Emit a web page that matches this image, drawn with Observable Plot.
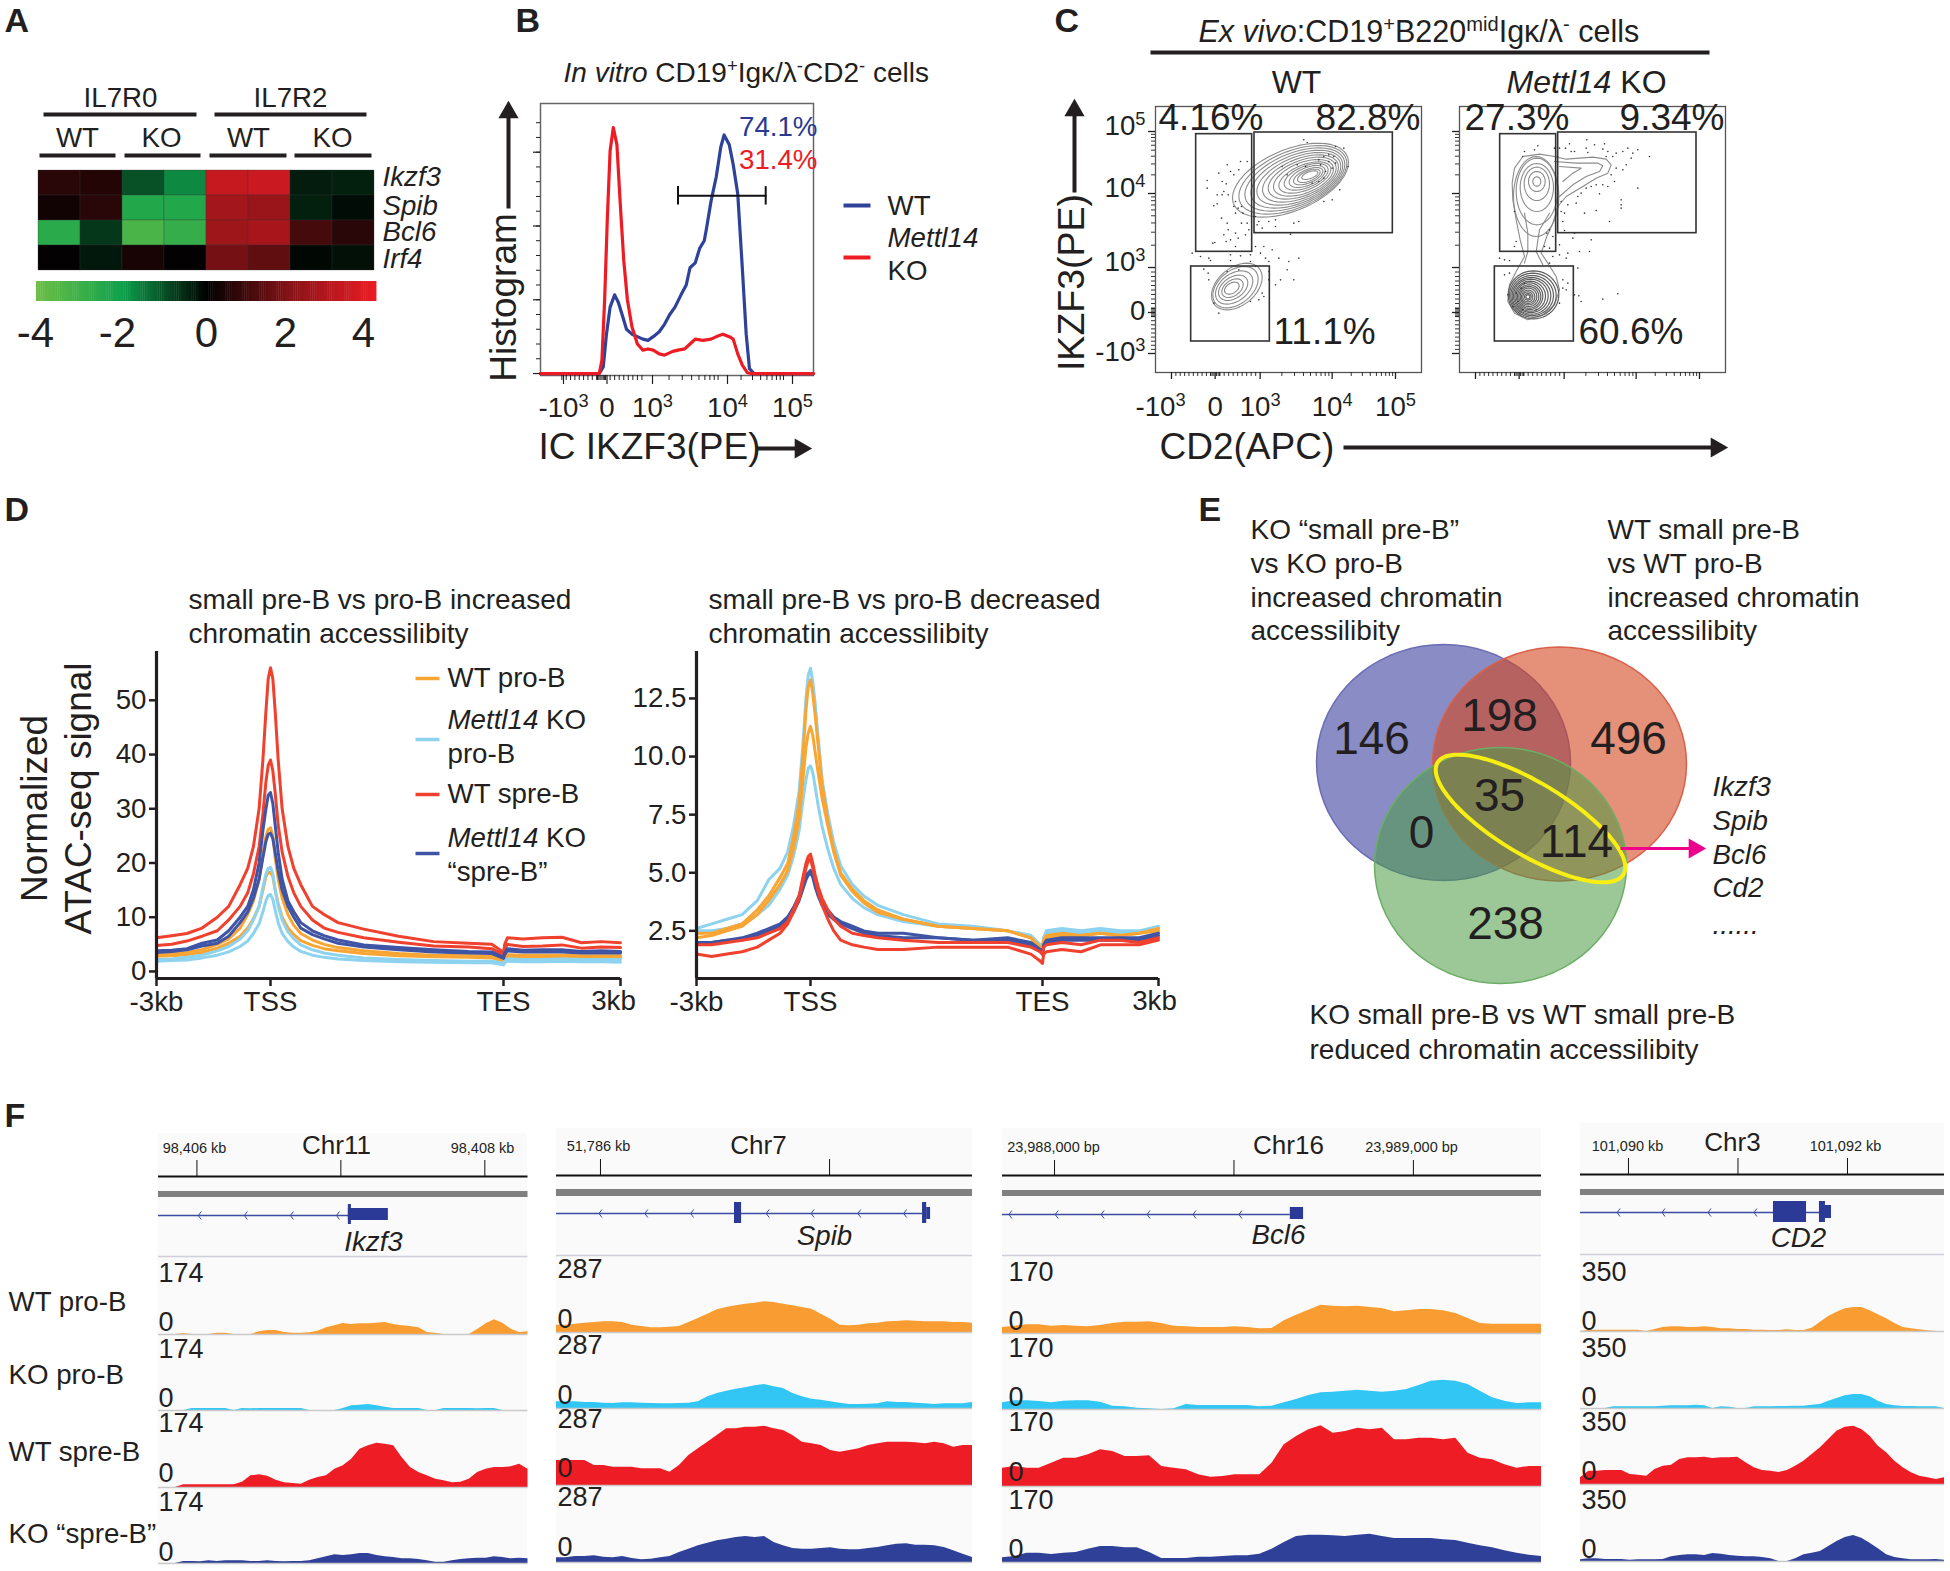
<!DOCTYPE html>
<html><head><meta charset="utf-8">
<style>html,body{margin:0;background:#fff}#fig{position:relative;width:1950px;height:1571px;background:#fff;overflow:hidden}</style>
<script src="https://cdn.jsdelivr.net/npm/d3@7"></script>
<script src="https://cdn.jsdelivr.net/npm/@observablehq/plot@0.6"></script>
</head><body><div id="fig"></div>
<script>
/* ---------- DATA ---------- */
// A: heat map (z-scores)
const heatSamples=["R0 WT 1","R0 WT 2","R0 KO 1","R0 KO 2","R2 WT 1","R2 WT 2","R2 KO 1","R2 KO 2"];
const heatGenes=["Ikzf3","Spib","Bcl6","Irf4"];
const heatIkzf3=[0.6,0.5,-1.0,-1.7,3.2,3.3,-0.35,-0.4];
const heatSpib=[0.25,0.6,-2.4,-2.4,2.5,2.3,-0.4,-0.15];
const heatBcl6=[-2.6,-0.7,-3.3,-2.8,2.4,2.6,1.0,0.6];
const heatIrf4=[0.05,-0.3,0.35,0.05,1.7,1.4,-0.1,-0.2];
// B: histogram (x: biexponential decade coordinate, y: % of mode)
const histWTx=[-1.39,-0.04,0.05,0.12,0.20,0.30,0.38,0.48,0.56,0.68,0.80,0.92,1.02,1.09,1.17,1.24,1.31,1.38,1.46,1.53,1.58,1.65,1.71,1.77,1.80,1.86,1.93,1.99,2.04,2.12,2.18,2.25,2.32,2.38,2.43,2.50,3.41];
const histWTy=[0,0,2.7,16,27,32,29,23,18,16,15,14,13.5,15,17,20,24,27,32,36,43,45,51,54,59,70,80,92,97,93,85,73,43,16,2,0,0];
const histKOx=[-1.39,-0.04,0.02,0.08,0.14,0.20,0.27,0.35,0.42,0.50,0.58,0.68,0.80,0.92,1.02,1.09,1.17,1.24,1.35,1.42,1.51,1.58,1.65,1.75,1.86,1.97,2.02,2.12,2.18,2.25,2.32,2.40,2.45,3.41];
const histKOy=[0,0,5.4,30,63.5,90.5,100,93,70,46,30,19,12,9.5,10,9.5,8,7.5,9,9.5,10,12,14,13.5,14,15.5,16,15,14,8,3.4,0.3,0,0];
// C: flow gates [x1,x2,y1,y2], contours [cx,cy,rx,ry,tilt], contour outlines, events (display channels 0-798, y from top)
const gatesWT=[[122,290,83,436],[297,712,78,380],[107,343,480,705]];
const gatesKO=[[122,290,83,436],[296,711,78,380],[106,343,480,705]];
const contoursWT=[[405,221,174,111,-.5],[412,220,162,103,-.5],[418,219,150,95,-.5],[424,218,138,87,-.5],[430,217,126,79,-.5],[435,216,114,71,-.5],[440,215,102,63,-.5],[444,214,90,55,-.5],[448,213,78,47,-.55],[452,211,66,40,-.55],[455,210,54,33,-.55],[458,209,44,26,-.6],[460,208,34,20,-.6],[463,206,24,13,-.6],
[244,540,76,70,-.4],[240,542,68,62,-.4],[236,543,56,50,-.4],[233,544,44,38,-.4],[231,545,32,28,-.4],[229,545,22,18,-.4]];
const contoursKO=[[230,270,68,120,0],[232,255,62,100,0],[232,243,50,72,0],[232,232,38,50,0],[232,225,25,30,0],[232,225,12,14,0]];
const contoursKOlow=[[222,565,76,72,0],[220,566,70,66,0],[218,567,64,60,0],[216,568,58,55,0],[214,568,52,50,0],[212,569,46,45,0],[210,569,40,40,0],[209,570,35,35,0],[208,570,30,30,0],[207,570,25,25,0],[206,571,20,20,0],[205,571,15,15,0],[205,571,10,10,0],[205,571,6,6,0]];
const outlineKO=[[158,230],[165,185],[190,150],[240,143],[285,150],[320,158],[400,152],[440,158],[455,175],[445,200],[410,215],[370,240],[320,270],[295,300],[280,350],[262,390],[245,440],[265,470],[290,510],[300,550],[285,595],[250,625],[205,640],[165,620],[145,585],[150,535],[170,495],[195,450],[182,400],[170,340],[160,280],[158,230]];
const tailKO1=[[285,165],[350,170],[415,170],[430,178],[420,195],[380,210],[340,235],[300,270]];
const tailKO2=[[300,180],[365,185],[340,200],[310,225]];
const neckKO1=[[195,320],[205,380],[205,435],[195,470]];
const neckKO2=[[270,320],[240,370],[230,435],[250,475]];
const eventsWT=[[215,175],[190,200],[225,195],[235,205],[250,190],[255,165],[275,165],[200,225],[212,232],[155,222],[155,245],[205,255],[218,265],[185,265],[200,265],[175,298],[185,292],[240,285],[235,300],[248,305],[258,300],[240,320],[262,320],[198,335],[215,350],[258,350],[275,350],[218,370],[240,380],[205,385],[225,400],[248,395],[172,410],[178,408],[212,405],[240,420],[270,385],[280,370],[310,345],[305,355],[340,345],[360,340],[320,365],[300,378],[360,360],[405,383],[430,345],[415,350],[300,330],[445,100],[455,108],[540,120],[565,125],[578,180],[553,250],[530,280],[505,285],[110,440],[135,450],[160,455],[165,462],[225,445],[255,448],[285,445],[300,420],[325,420],[350,430],[315,440],[330,455],[340,465],[285,465],[225,462],[300,480],[370,455],[430,455],[400,465],[395,490],[415,520],[375,520],[360,535],[340,495],[340,520],[320,560],[310,580],[325,570],[285,585],[250,490],[145,488],[158,500],[160,520],[215,495],[190,620],[175,590],
[490,160],[505,150],[520,165],[530,185],[510,195],[495,175],[540,170],[470,230],[490,225],[505,215],[450,180],[425,175],[395,205],[380,180],[520,145],[535,150]];
const eventsKO=[[235,118],[225,130],[195,135],[190,150],[285,125],[300,125],[318,125],[330,112],[345,135],[335,135],[382,100],[380,125],[385,138],[405,115],[435,112],[430,128],[445,135],[440,150],[460,150],[470,140],[490,135],[505,125],[520,140],[535,130],[515,155],[500,175],[490,190],[470,185],[455,205],[465,225],[445,240],[430,235],[410,235],[395,240],[380,245],[365,260],[355,270],[420,262],[350,290],[375,320],[410,312],[450,345],[485,280],[485,295],[485,305],[535,245],[570,150],[305,285],[325,295],[315,320],[305,315],[310,345],[345,380],[315,372],[270,370],[262,380],[280,390],[165,315],[170,405],[165,420],[255,420],[270,425],[300,415],[340,395],[395,400],[390,435],[360,435],[325,440],[300,445],[320,455],[280,450],[135,460],[120,455],[150,462],[270,470],[355,485],[135,505],[150,500],[310,520],[325,530],[320,550],[310,545],[300,590],[345,565],[358,568],[365,585],[430,578],[475,562],[145,565],
[170,560],[185,545],[175,585],[195,530],[160,600],[190,610],[230,610]];
// D: ATAC-seq profiles (x: -3..0 upstream kb, 0..1 scaled gene body, 1..4 downstream)
const profileX=[-3,-2.6,-2.2,-1.8,-1.4,-1.1,-.8,-.6,-.45,-.3,-.2,-.12,-.06,0,.01,.02,.033,.05,.075,.1,.13,.18,.23,.29,.4,.55,.7,.85,.95,.99,1,1.03,1.1,1.5,2,2.5,3,3.5,4];
const incKOpro1=[2.2,2.3,2.6,3,3.8,4.6,6,7.5,9.5,12,15.5,18,19,19.2,18,15,12,9.5,7.3,6,4.9,4,3.4,3,2.5,2.2,2,1.9,1.9,1.6,1.4,2,2.3,2.2,2.2,2.3,2.2,2.2,2.2];
const incKOpro2=[1.9,2,2.1,2.5,3,3.6,4.6,5.6,7,8.8,11,13,14,14.2,13.3,11.3,9,7,5.5,4.5,3.7,3,2.6,2.3,2,1.8,1.7,1.6,1.6,1.3,1.2,1.6,1.9,1.8,1.8,1.9,1.8,1.8,1.7];
const incWTpro1=[3.1,3.2,3.5,4,5,6,8,10.5,13,17,21.5,25,26.2,26.5,25,21,17,13.5,10.5,8.5,7,5.8,5,4.4,3.8,3.3,3,2.9,2.8,2.2,2,2.7,3.1,3,3,3,2.9,2.9,2.9];
const incWTpro2=[2.8,2.9,3.1,3.5,4.3,5.2,6.5,8,9.7,12,15,17.5,18.2,18.3,17.5,15,12.5,10,8,6.8,5.7,4.8,4.2,3.8,3.3,2.9,2.7,2.6,2.5,2,1.8,2.4,2.8,2.7,2.7,2.7,2.6,2.6,2.6];
const incKOspre1=[3.8,3.9,4.2,5.2,5.8,7.5,10,12,15,20,26,30,32.5,33,31,27,22,17,13,11,9,7.5,6.6,5.8,4.9,4.4,4,3.7,3.6,2.8,2.6,3.4,4.2,3.9,4,4,3.7,3.8,3.7];
const incKOspre2=[3.5,3.7,4,4.7,5.2,6.5,9,11,13.5,17,21,24,25.3,25.5,24.5,22,18.5,15,12,10,8,6.8,6,5.2,4.5,4,3.6,3.4,3.3,2.6,2.4,3.1,3.8,3.6,3.6,3.6,3.4,3.4,3.4];
const incWTspre1=[6.2,6.6,7,8,10,12,16,19,23,30,39,48,54,56,54,48,39,30,23,19,16,12,10.5,9,7.8,6.5,5.5,5.2,5,3.8,3.3,5,6.2,6,6.2,6.3,5.3,5.5,5.3];
const incWTspre2=[4.8,5,5.6,6.5,7.5,9.5,12,14.5,18,23,29,35,38,39,37,33,27,22,17.5,14.5,12,9.5,8,7.2,6.2,5.4,4.7,4.5,4.2,3.3,2.9,4.2,5,4.6,4.7,4.9,4.3,4.5,4.4];
const decKOpro1=[2.6,2.8,3,3.2,3.8,4.7,5.2,5.9,7,8.5,10.5,12.5,13.5,13.8,13.2,12.3,10.8,9,7.5,6.3,5.3,4.5,4,3.6,3.2,2.8,2.7,2.5,2.3,1.9,1.8,2.2,2.5,2.6,2.5,2.6,2.5,2.5,2.7];
const decKOpro2=[2.5,2.5,2.6,2.8,3.2,3.6,4.3,4.9,5.7,6.8,8.1,9,9.5,9.6,9.3,8.7,7.9,7,6,5.2,4.5,3.9,3.5,3.2,2.9,2.7,2.6,2.5,2.3,1.9,1.8,2.2,2.4,2.5,2.4,2.5,2.4,2.4,2.6];
const decWTpro1=[2.4,2.4,2.6,2.8,3.4,4,4.8,5.4,6.5,8,10,12,13,13.3,12.7,11.8,10.5,8.8,7.2,6,5,4.3,3.8,3.4,3,2.7,2.6,2.5,2.2,1.8,1.7,2.1,2.3,2.4,2.3,2.4,2.3,2.4,2.6];
const decWTpro2=[2.2,2.3,2.5,2.7,3.2,3.8,4.5,5.1,6,7.3,9,10.4,11,11.3,10.9,10.2,9.3,8.2,7,5.9,4.9,4.2,3.7,3.3,3,2.7,2.6,2.5,2.2,1.8,1.7,2,2.2,2.3,2.3,2.4,2.3,2.4,2.5];
const decKOspre1=[2,2,2.1,2.2,2.4,2.6,2.8,3.1,3.5,4,4.6,4.9,5,5.1,4.9,4.5,4.1,3.7,3.4,3.1,2.9,2.7,2.5,2.4,2.4,2.2,2.1,2.2,2,1.7,1.5,1.9,2.1,2.2,2.2,2.2,2.2,2.2,2.4];
const decKOspre2=[1.9,2,2.1,2.1,2.3,2.5,2.7,3,3.3,3.8,4.3,4.7,4.9,5,4.8,4.4,4,3.6,3.2,3,2.8,2.6,2.4,2.3,2.2,2.2,2.1,2.1,1.9,1.6,1.5,1.8,2,2.1,2.1,2.1,2.1,2.1,2.3];
const decWTspre1=[1.9,1.9,2,2.1,2.2,2.4,2.6,2.9,3.4,4,4.8,5.4,5.7,5.8,5.4,4.9,4.4,3.9,3.4,3,2.7,2.4,2.3,2.2,2.1,2,2,2,1.8,1.6,1.5,1.8,1.9,2,1.9,2.1,2.1,2,2.2];
const decWTspre2=[1.5,1.4,1.5,1.6,1.8,2.1,2.4,2.8,3.3,3.9,4.6,5.2,5.5,5.6,5.2,4.7,4.2,3.6,3,2.5,2.1,1.9,1.8,1.7,1.7,1.8,1.8,1.8,1.5,1.2,1.1,1.5,1.6,1.7,1.6,1.9,1.9,1.9,2.1];
// E: Venn counts
const vennCounts=["146","198","496","35","0","114","238"];
const geneList=["Ikzf3","Spib","Bcl6","Cd2"];
// F: browser tracks, evenly sampled across each locus (signal in display units, 0-225 = track height)
const ikzf3WTpro=[0,0,0,3,0,0,0,4,4,0,0,0,8,12,12,6,4,4,5,10,20,26,33,30,32,32,34,36,30,26,24,20,6,4,0,0,0,0,15,32,44,34,16,6,8];
const ikzf3KOpro=[0,0,0,0,6,6,6,6,6,0,6,5,6,6,6,6,6,6,0,0,0,0,6,14,16,18,14,10,6,6,6,6,0,0,6,6,6,6,5,6,6,0,0,0,0];
const ikzf3WTspre=[0,0,0,8,8,8,8,8,8,8,16,35,38,34,22,14,12,10,22,30,35,55,65,85,115,125,133,130,125,90,60,45,35,25,20,14,16,25,45,55,60,60,62,70,55];
const ikzf3KOspre=[0,0,0,6,6,5,8,6,8,8,8,6,6,8,6,5,6,6,8,14,20,26,24,26,30,30,24,20,18,14,14,12,8,4,4,8,12,14,16,16,20,18,14,16,14];
const spibWTpro=[22,22,25,28,30,32,32,30,22,18,14,14,16,18,30,42,55,68,75,80,85,88,92,90,85,80,75,70,55,40,22,20,22,26,28,32,33,35,34,32,32,32,30,30,28];
const spibKOpro=[20,20,20,18,18,16,15,17,17,16,15,14,14,15,16,20,35,45,52,58,62,68,72,65,60,45,35,28,25,20,16,12,12,13,14,20,18,18,16,14,12,14,14,14,18];
const spibWTspre=[75,75,75,75,60,60,55,55,55,50,50,50,40,60,90,110,130,150,170,170,175,175,178,170,165,150,130,125,120,105,100,105,110,120,125,130,130,130,128,125,130,125,115,120,120];
const spibKOspre=[14,14,18,18,20,16,14,18,12,8,10,14,18,30,40,50,58,65,70,75,78,75,78,60,50,42,40,40,42,44,40,38,38,42,45,50,55,56,52,52,50,45,35,25,15];
const bcl6WTpro=[18,22,26,26,22,24,22,20,24,30,34,34,35,30,22,20,18,18,18,20,18,14,15,38,55,70,85,82,80,82,78,75,65,68,72,72,68,60,45,30,28,28,28,28,28];
const bcl6KOpro=[20,26,26,24,20,25,26,26,22,10,8,4,2,0,2,15,12,12,12,12,12,8,10,20,30,42,50,52,55,58,55,52,55,60,72,85,88,85,75,55,35,25,18,20,20];
const bcl6WTspre=[55,60,55,55,70,85,85,95,110,105,90,90,92,60,55,50,35,28,30,35,35,35,70,125,150,170,182,160,165,175,170,175,140,140,145,145,140,145,100,85,80,65,55,60,60];
const bcl6KOspre=[14,18,28,28,24,28,30,40,48,48,44,44,30,12,12,12,16,16,18,20,20,25,40,60,78,82,82,80,78,82,85,78,72,72,72,72,68,66,58,50,44,35,28,22,18];
const cd2WTpro=[0,4,4,4,4,4,4,4,0,6,12,14,14,12,12,14,12,8,8,6,6,4,4,3,3,5,3,3,10,28,45,58,68,72,72,62,50,38,24,12,8,5,2,0,0];
const cd2KOpro=[0,0,0,0,5,5,5,5,5,5,7,8,8,8,10,8,0,5,4,0,0,5,5,5,6,6,7,7,10,12,22,30,38,42,42,35,22,12,8,6,6,5,5,5,0];
const cd2WTspre=[20,40,40,42,42,42,30,28,25,45,55,58,75,80,80,82,78,80,80,82,65,50,42,40,36,42,55,70,90,110,135,160,172,175,165,145,115,95,70,50,35,25,20,15,20];
const cd2KOspre=[5,8,8,6,6,6,4,5,5,5,6,14,18,20,20,18,24,22,18,16,14,14,12,8,0,0,8,20,25,30,45,60,72,78,70,55,38,20,12,8,5,5,5,6,4];

/* ---------- STYLE & LAYOUT ---------- */
const FONT='"Liberation Sans",Arial,sans-serif', INK="#231f20";
const ORANGE="#f9a533",SKY="#8dd3f0",RED="#f0402e",BLUE="#3f54a5";
const S=27.7;
const fig=document.getElementById("fig");
function rich(root){
  root.querySelectorAll("text,tspan").forEach(n=>{
    if(n.children.length||!n.textContent.includes("<"))return;
    n.innerHTML=n.textContent
      .replace(/<sup>(.*?)<\/sup>/g,'<tspan baseline-shift="super" font-size="66%">$1</tspan>')
      .replace(/<i>(.*?)<\/i>/g,'<tspan font-style="italic">$1</tspan>');
  });
}
function panel([l,t,r,b],opts){
  const el=Plot.plot({width:r-l,height:b-t,margin:0,...opts});
  Object.assign(el.style,{position:"absolute",left:l+"px",top:t+"px",overflow:"visible",background:"transparent",maxWidth:"none",
    fontFamily:FONT,color:INK,pointerEvents:"none",height:(b-t)+"px"});
  rich(el);fig.appendChild(el);return el;
}
// a position scale with unequal segments (biexponential axis, scaled gene body), as a Plot scale transform;
// axis marks take the transformed tick positions directly
const warped=(warp)=>{const r=warp.range(),e=[r[0],r[r.length-1]];return{transform:warp,domain:e,range:e,axis:null}};
const PAGE=[0,0,1950,1571];
const pageScales={x:{domain:[0,1950],range:[0,1950],axis:null},y:{domain:[0,1571],range:[0,1571],axis:null}};
const txt=(rows,anchor,extra={})=>Plot.text(rows,{x:d=>d[1],y:d=>d[2],text:d=>d[0],fontSize:d=>d[3],textAnchor:anchor,lineAnchor:"middle",fill:INK,...extra});
const seg=(rows,extra={})=>Plot.link(rows,{x1:d=>d[0],y1:d=>d[1],x2:d=>d[2],y2:d=>d[3],strokeWidth:d=>d[4],stroke:INK,...extra});
const lin=(a,b,n)=>d3.range(1,n).map(i=>a+(b-a)*i/n);
const logm=(a,b)=>d3.range(2,10).map(k=>a+(b-a)*Math.log10(k));
const ell=(id,[cx,cy,rx,ry,tilt])=>d3.range(0,49).map(i=>{const t=i/48*2*Math.PI;return{id,x:cx+rx*Math.cos(t),y:cy+ry*Math.sin(t+tilt)}});
const poly=(id,pts)=>pts.map(([x,y])=>({id,x,y}));

/* columns of panel F */
const gene=(x1,x2,y1,y2)=>({x1,x2,y1,y2});
const columns=[
 {box:[157.5,1133,527,1257],dom:[98405.733,98408.3],ticks:[98406,98407,98408],rule:1176,tt:1160,band:[1191,1197],gy:1215,lineTo:98407.056,
  exons:[gene(98407.052,98407.33,1208,1220),gene(98407.052,98407.073,1204,1224)],chev:[98406.02,98406.34,98406.66,98406.98],
  base:[1334,1410,1487,1563],tracks:[ikzf3WTpro,ikzf3KOpro,ikzf3WTspre,ikzf3KOspre]},
 {box:[556,1128,972,1256],dom:[51785.808,51787.624],ticks:[51786,51787],rule:1175,tt:1159,band:[1189,1196],gy:1213,lineTo:51787.406,
  exons:[gene(51786.585,51786.616,1202,1223),gene(51787.406,51787.424,1202,1223),gene(51787.424,51787.441,1207,1219)],chev:[51786,51786.2,51786.4,51786.73,51786.926,51787.13,51787.33],
  base:[1332,1408,1485,1562],tracks:[spibWTpro,spibKOpro,spibWTspre,spibKOspre]},
 {box:[1002,1128,1541,1256],dom:[23987.855,23989.357],ticks:[23988,23988.5,23989],rule:1175,tt:1160,band:[1190,1196],gy:1214,lineTo:23988.657,
  exons:[gene(23988.657,23988.694,1207,1219)],chev:[23987.877,23988.006,23988.134,23988.262,23988.39,23988.518],
  base:[1333,1409,1486,1562],tracks:[bcl6WTpro,bcl6KOpro,bcl6WTspre,bcl6KOspre]},
 {box:[1580,1123,1944,1255],dom:[101089.562,101092.886],ticks:[101090,101091,101092],rule:1174,tt:1158,band:[1189,1195],gy:1212,lineTo:101091.854,
  exons:[gene(101091.324,101091.626,1201,1222),gene(101091.744,101091.799,1201,1222),gene(101091.799,101091.854,1205,1218)],chev:[101089.91,101090.32,101090.74,101091.16],
  base:[1331,1408,1484,1561],tracks:[cd2WTpro,cd2KOpro,cd2WTspre,cd2KOspre]}
];
const trackColors=["#f99d33","#32c6f4","#ee1c25","#2e4097"];

/* ---------- UNDER LAYER: locus backgrounds ---------- */
panel(PAGE,{...pageScales,marks:[
  Plot.rect(columns,{x1:d=>d.box[0],x2:d=>d.box[2],y1:d=>d.box[1],y2:d=>d.base[3]+1,fill:"#fafafa"})
]});

/* ---------- A ---------- */
const heatRows=[heatIkzf3,heatSpib,heatBcl6,heatIrf4].flatMap((vals,r)=>vals.map((v,c)=>({gene:heatGenes[r],sample:heatSamples[c],v})));
const heatColor={type:"linear",domain:[-4,-2,0,2,4],range:["#6cbe45","#0fa14d","#000000","#8a1418","#ed1c24"]};
panel([36,170,376,270],{x:{domain:heatSamples,axis:null,padding:0},y:{domain:heatGenes,axis:null,padding:0},color:heatColor,marks:[
  Plot.cell(heatRows,{x:"sample",y:"gene",fill:"v",stroke:"#3a3a3a",strokeWidth:.5,strokeOpacity:.6})
]});
panel([36,281,376,301],{x:{domain:[-4,4],axis:null},y:{domain:[0,1],axis:null},color:heatColor,marks:[
  Plot.rect(d3.range(-4,4,.05),{x1:d=>d,x2:d=>d+.06,y1:0,y2:1,fill:d=>d})
]});

/* ---------- B ---------- */
const histWT=histWTx.map((x,i)=>({x,y:histWTy[i]})), histKO=histKOx.map((x,i)=>({x,y:histKOy[i]}));
const warpB=d3.scaleLinear([-1.39,-1,0,1,2,3,3.41],[0,17,60.5,106,181,246,273]);
const decLabels=new Map([[-1,"-10<sup>3</sup>"],[0,"0"],[1,"10<sup>3</sup>"],[2,"10<sup>4</sup>"],[3,"10<sup>5</sup>"]].map(([k,v])=>[warpB(k),v]));
panel([540,103,813,375],{
  x:warped(warpB),
  y:{domain:[-0.8,109.8],axis:null},
  marks:[
    Plot.frame({stroke:"#666",strokeWidth:1.5}),
    Plot.line(histWT,{x:"x",y:"y",stroke:"#2f4299",strokeWidth:3.2,curve:"linear"}),
    Plot.line(histKO,{x:"x",y:"y",stroke:"#ed1c24",strokeWidth:3.2,curve:"linear"}),
    Plot.line([{x:1.42,y:72.3},{x:2.68,y:72.3}],{x:"x",y:"y",stroke:"#111",strokeWidth:2}),
    Plot.ruleX([1.42,2.68],{y1:68.5,y2:76,stroke:"#111",strokeWidth:2}),
    Plot.text(["74.1%"],{x:()=>3.41,y:()=>100,text:d=>d,fill:"#2b3a90",fontSize:S,textAnchor:"end",lineAnchor:"middle",dx:4}),
    Plot.text(["31.4%"],{x:()=>3.41,y:()=>86.6,text:d=>d,fill:"#ed1c24",fontSize:S,textAnchor:"end",lineAnchor:"middle",dx:4}),
    Plot.axisX({ticks:[-1,0,1,2,3].map(warpB),tickFormat:d=>decLabels.get(d),tickSize:9,tickPadding:13,fontSize:S,dx:6,strokeWidth:1.2,label:null}),
    Plot.axisX({ticks:[...lin(-1,0,10),...lin(0,1,10),-.05,-.08,.05,.08,-.02,.02,...logm(1,2),...logm(2,3)].map(warpB),text:null,tickSize:5,strokeWidth:1,label:null}),
    Plot.axisY({ticks:[0,30,60,90],text:null,tickSize:7,strokeWidth:1.2,label:null}),
    Plot.axisY({ticks:d3.range(6,108,6),text:null,tickSize:4,strokeWidth:1,label:null})
  ]});

/* ---------- C ---------- */
const xMajor=[48,179,314,530,720], yMajor=[741,618,483,261,75];
const expLab=["-10<sup>3</sup>","0","10<sup>3</sup>","10<sup>4</sup>","10<sup>5</sup>"];
const xLab=new Map(xMajor.map((v,i)=>[v,expLab[i]])), yLab=new Map(yMajor.map((v,i)=>[v,expLab[i]]));
const xMinor=[...lin(48,179,10),...lin(179,314,10),165,170,175,183,188,193,...logm(314,530),...logm(530,720)];
const yMinor=[...lin(618,741,10),...lin(483,618,10),606,610,614,622,626,630,...logm(483,261),...logm(261,75)];
function flow(box,contours,extra,events,gates,labelled){
  panel(box,{x:{domain:[0,798],axis:null},y:{domain:[0,798],range:[0,266],axis:null},marks:[
    Plot.frame({stroke:"#555",strokeWidth:1.3}),
    ...extra,
    Plot.line(contours.flatMap((c,i)=>ell(i,c)),{x:"x",y:"y",z:"id",stroke:"#8c8c8c",strokeWidth:1.1}),
    Plot.dot(events,{x:d=>d[0],y:d=>d[1],r:.8,fill:"#333"}),
    Plot.rect(gates,{x1:d=>d[0],x2:d=>d[1],y1:d=>d[2],y2:d=>d[3],stroke:"#333",strokeWidth:1.6,fill:"none"}),
    Plot.axisX({ticks:xMajor,text:null,tickSize:7,strokeWidth:1.3,label:null}),
    Plot.axisY({ticks:yMajor,text:null,tickSize:7,strokeWidth:1.3,label:null}),
    ...(labelled?[
      Plot.axisX({ticks:xMajor.slice(1),tickFormat:d=>xLab.get(d),tickSize:0,tickPadding:24,fontSize:S,label:null}),
      Plot.axisX({ticks:xMajor.slice(0,1),tickFormat:d=>xLab.get(d),tickSize:0,tickPadding:24,fontSize:S,dx:-11,label:null}),
      Plot.axisY({ticks:yMajor.slice(2),tickFormat:d=>yLab.get(d),tickSize:0,tickPadding:10,fontSize:S,dy:-5,label:null}),
      Plot.axisY({ticks:yMajor.slice(0,2),tickFormat:d=>yLab.get(d),tickSize:0,tickPadding:10,fontSize:S,dy:-1,label:null})
    ]:[]),
    Plot.axisX({ticks:xMinor,text:null,tickSize:4,strokeWidth:.9,label:null}),
    Plot.axisY({ticks:yMinor,text:null,tickSize:4,strokeWidth:.9,label:null})
  ]});
}
flow([1155,106,1421,372],contoursWT,[],eventsWT,gatesWT,true);
flow([1459,106,1725,372],contoursKO,[
  Plot.line([...poly(0,outlineKO),...poly(1,tailKO1),...poly(2,tailKO2),...poly(3,neckKO1),...poly(4,neckKO2)],{x:"x",y:"y",z:"id",stroke:"#8c8c8c",strokeWidth:1.1}),
  Plot.line(contoursKOlow.flatMap((c,i)=>ell(i,c)),{x:"x",y:"y",z:"id",stroke:"#5f5f5f",strokeWidth:1.2})
],eventsKO,gatesKO,false);

/* ---------- D ---------- */
const profTable=(list)=>list.flatMap(([name,cond,vals])=>vals.map((y,i)=>({name,cond,x:profileX[i],y})));
const condColor={domain:["WT pro","KO pro","KO spre","WT spre"],range:[ORANGE,SKY,BLUE,RED]};
function profile(box,range,yDomain,yTicks,fmt,list,endDx){
  const warp=d3.scaleLinear([-3,0,1,4],range);
  const xProf=new Map([[-3,"-3kb"],[0,"TSS"],[1,"TES"],[4,""]].map(([k,v])=>[warp(k),v]));
  panel(box,{x:warped(warp),y:{domain:yDomain,axis:null},color:condColor,marks:[
    Plot.line(profTable(list),{x:"x",y:"y",z:"name",stroke:"cond",strokeWidth:3,strokeLinejoin:"round"}),
    Plot.ruleX([-3],{stroke:INK,strokeWidth:3.2}),
    Plot.ruleY([yDomain[0]],{stroke:INK,strokeWidth:3.2}),
    Plot.axisX({ticks:[-3,0,1,4].map(warp),tickFormat:d=>xProf.get(d),tickSize:8,tickPadding:5,fontSize:S,strokeWidth:2.5,label:null}),
    Plot.text(["3kb"],{x:()=>4,y:()=>yDomain[0],text:d=>d,fontSize:S,dx:endDx,dy:23,fill:INK,lineAnchor:"middle"}),
    Plot.axisY({ticks:yTicks,tickFormat:fmt,tickSize:7,tickPadding:3,fontSize:S,strokeWidth:2.5,label:null})
  ]});
}
profile([156,651,620,978],[0,114,347,464],[-1.3,59],[0,10,20,30,40,50],d3.format("d"),[
  ["o1","WT pro",incWTpro1],["o2","WT pro",incWTpro2],["s1","KO pro",incKOpro1],["s2","KO pro",incKOpro2],
  ["r1","WT spre",incWTspre1],["r2","WT spre",incWTspre2],["b1","KO spre",incKOspre1],["b2","KO spre",incKOspre2]],-7);
profile([696,651,1158,978],[0,114,346,462],[.45,14.52],[2.5,5,7.5,10,12.5],d3.format(".1f"),[
  ["s1","KO pro",decKOpro1],["s2","KO pro",decKOpro2],["o1","WT pro",decWTpro1],["o2","WT pro",decWTpro2],
  ["b1","KO spre",decKOspre1],["b2","KO spre",decKOspre2],["r1","WT spre",decWTspre1],["r2","WT spre",decWTspre2]],-4);

/* ---------- F ---------- */
columns.forEach(col=>{
  const [l,t,r,b]=col.box, rng=[0,r-l];
  panel(col.box,{x:{domain:col.dom,range:rng,axis:null},y:{domain:[t,b],range:[0,b-t],axis:null},marks:[
    Plot.ruleY([col.rule],{stroke:"#111",strokeWidth:1.8}),
    Plot.ruleX(col.ticks,{y1:col.tt,y2:col.rule,stroke:"#111",strokeWidth:1}),
    Plot.rect([col.band],{x1:col.dom[0],x2:col.dom[1],y1:d=>d[0],y2:d=>d[1],fill:"#808080"}),
    Plot.ruleY([col.gy],{x1:col.dom[0],x2:col.lineTo,stroke:"#3b4ba3",strokeWidth:1.4}),
    Plot.dot(col.chev,{x:d=>d,y:()=>col.gy,stroke:"#3b4ba3",strokeWidth:1,fill:"none",r:3,
      symbol:{draw(c){c.moveTo(1.5,-4);c.lineTo(-1.5,0);c.lineTo(1.5,4)}}}),
    Plot.rect(col.exons,{x1:"x1",x2:"x2",y1:"y1",y2:"y2",fill:"#2a3a96"}),
    Plot.ruleY([b-1],{stroke:"#cfcfdc",strokeWidth:1.5})
  ]});
  col.tracks.forEach((vals,k)=>{
    const base=col.base[k];
    panel([l,base-75,r,base],{x:{domain:col.dom,range:rng,axis:null},y:{domain:[0,225],axis:null},marks:[
      Plot.areaY(vals,{x:(d,i)=>col.dom[0]+(col.dom[1]-col.dom[0])*i/(vals.length-1),y:d=>d,curve:"linear",fill:trackColors[k]}),
      Plot.ruleY([0],{stroke:"#c9c9c9",strokeWidth:1.6})
    ]});
  });
});

/* ---------- E + all figure annotation ---------- */
const vennRing=(cx,cy,rx,ry,rot=0)=>d3.range(0,73).map(i=>{const t=i/72*2*Math.PI,c=Math.cos(rot),s=Math.sin(rot),u=rx*Math.cos(t),v=ry*Math.sin(t);return{x:cx+u*c-v*s,y:cy+u*s+v*c}});
const ringMark=(pts,fill,stroke,w=1.5,op=.6)=>Plot.line(pts,{x:"x",y:"y",fill,fillOpacity:op,stroke,strokeWidth:w});
const [n146,n198,n496,n35,n0,n114,n238]=vennCounts;

const textStart=[
 ["<i>Ikzf3</i>",382,177,S],["<i>Spib</i>",382,206,S],["<i>Bcl6</i>",382,232,S],["<i>Irf4</i>",382,259,S],
 ["<i>In vitro</i> CD19<sup>+</sup>Igκ/λ<sup>-</sup>CD2<sup>-</sup> cells",563,73,28],
 ["IC IKZF3(PE)",538,447,37],
 ["WT",887,206,S],["<i>Mettl14</i>",887,238,S],["KO",887,271,S],
 ["<i>Ex vivo</i>:CD19<sup>+</sup>B220<sup>mid</sup>Igκ/λ<sup>-</sup> cells",1198,32,30.5],
 ["4.16%",1158,118,37],["11.1%",1273,332,37],["27.3%",1464,118,37],["60.6%",1578,332,37],
 ["CD2(APC)",1159,447,37],
 ["small pre-B vs pro-B increased",188,600,28],["chromatin accessilibity",188,634,28],
 ["small pre-B vs pro-B decreased",708,600,28],["chromatin accessilibity",708,634,28],
 ["WT pro-B",447,678,S],["<i>Mettl14</i> KO",447,720,S],["pro-B",447,754,S],["WT spre-B",447,794,S],["<i>Mettl14</i> KO",447,838,S],["“spre-B”",447,872,S],
 ["KO “small pre-B”",1250,530,28],["vs KO pro-B",1250,564,28],["increased chromatin",1250,598,28],["accessilibity",1250,631,28],
 ["WT small pre-B",1607,530,28],["vs WT pro-B",1607,564,28],["increased chromatin",1607,598,28],["accessilibity",1607,631,28],
 ["KO small pre-B vs WT small pre-B",1309,1015,28],["reduced chromatin accessilibity",1309,1050,28],
 ...geneList.map((g,i)=>[`<i>${g}</i>`,1712,787+33.7*i,S]),["<i>......</i>",1712,925,S],
 ["WT pro-B",8,1302,S],["KO pro-B",8,1375,S],["WT spre-B",8,1452,S],["KO “spre-B”",8,1534,S],
 ...[[158,"174",[1273,1322,1349,1398,1423,1473,1502,1552]],[557,"287",[1269,1319,1345,1395,1419,1468,1497,1547]],
     [1008,"170",[1272,1321,1348,1397,1422,1472,1500,1549]],[1581,"350",[1272,1321,1348,1397,1422,1471,1500,1549]]]
   .flatMap(([x,top,ys])=>ys.map((y,i)=>[i%2?"0":top,x,y,27]))
];
const textMiddle=[
 ["IL7R0",120,98,S],["IL7R2",290,98,S],["WT",77,138,S],["KO",161,138,S],["WT",248,138,S],["KO",332,138,S],
 ["-4",35,333,42],["-2",117,333,42],["0",206,333,42],["2",285,333,42],["4",363,333,42],
 ["WT",1296,82,32],["<i>Mettl14</i> KO",1586,82,32],
 [n146,1371,739,46],[n198,1499,716,46],[n496,1628,739,46],[n35,1499,796,46],[n0,1421,833,46],[n114,1576,842,46],[n238,1505,924,46],
 ["98,406 kb",194,1148,14.5],["98,408 kb",482,1148,14.5],["Chr11",336,1145,26],["<i>Ikzf3</i>",373,1242,S],
 ["51,786 kb",598,1146,14.5],["Chr7",758,1145,26],["<i>Spib</i>",824,1236,S],
 ["23,988,000 bp",1053,1147,14.5],["23,989,000 bp",1411,1147,14.5],["Chr16",1288,1145,26],["<i>Bcl6</i>",1278,1235,S],
 ["101,090 kb",1627,1146,14.5],["101,092 kb",1845,1146,14.5],["Chr3",1732,1142,26],["<i>CD2</i>",1798,1238,S]
];
const textEnd=[["82.8%",1420,118,37],["9.34%",1724,118,37]];
const textRot=[["Histogram",504,297,37],["IKZF3(PE)",1071,282,37.5],["Normalized",35,808,37],["ATAC-seq signal",79,798,37]];
const letters=[["A",4,21,34],["B",515,21,34],["C",1054,21,34],["D",4,510,34],["E",1198,510,34],["F",4,1116,34]];
const rulesAll=[
 [43,114,196,114,4],[214,114,366,114,4],[39,155,115,155,4],[124,155,200,155,4],[209,155,286,155,4],[294,155,371,155,4],
 [1150,52,1709,52,4],
 [508,208,508,116,4],[756,448,796,448,4],[1074,192,1074,114,4],[1343,447,1712,447,4]
];
const legendLines=[[843,205,870,205,4,"#2f4299"],[843,257,870,257,4,"#ed1c24"],[415,678,439,678,3.5,ORANGE],[415,739,439,739,3.5,SKY],[415,794,439,794,3.5,RED],[415,853,439,853,3.5,BLUE],[1620,848,1692,848,3,"#ec008c"]];
const heads=[[508,112,0,INK],[800,448,90,INK],[1074,110,0,INK],[1716,447,90,INK],[1694,848,90,"#ec008c"]];

panel(PAGE,{...pageScales,marks:[
  ringMark(vennRing(1443,762,127,118),"#3a3f9f","#6b6eb5"),
  ringMark(vennRing(1559,763.5,127,117),"#d4461e","#d9604a"),
  ringMark(vennRing(1500,865,126,118),"#4b9b44","#6cae66",1.5,.55),
  Plot.line(vennRing(1530,818,108.5,36,31*Math.PI/180),{x:"x",y:"y",stroke:"#f7ee14",strokeWidth:4}),
  seg(rulesAll),
  Plot.link(legendLines,{x1:d=>d[0],y1:d=>d[1],x2:d=>d[2],y2:d=>d[3],strokeWidth:d=>d[4],stroke:d=>d[5]}),
  Plot.dot(heads,{x:d=>d[0],y:d=>d[1],rotate:d=>d[2],fill:d=>d[3],symbol:"triangle",r:7.5,stroke:"none"}),
  txt(textStart,"start"),txt(textMiddle,"middle"),txt(textEnd,"end"),
  txt(textRot,"middle",{rotate:-90}),
  txt(letters,"start",{fontWeight:"bold"})
]});
</script></body></html>
